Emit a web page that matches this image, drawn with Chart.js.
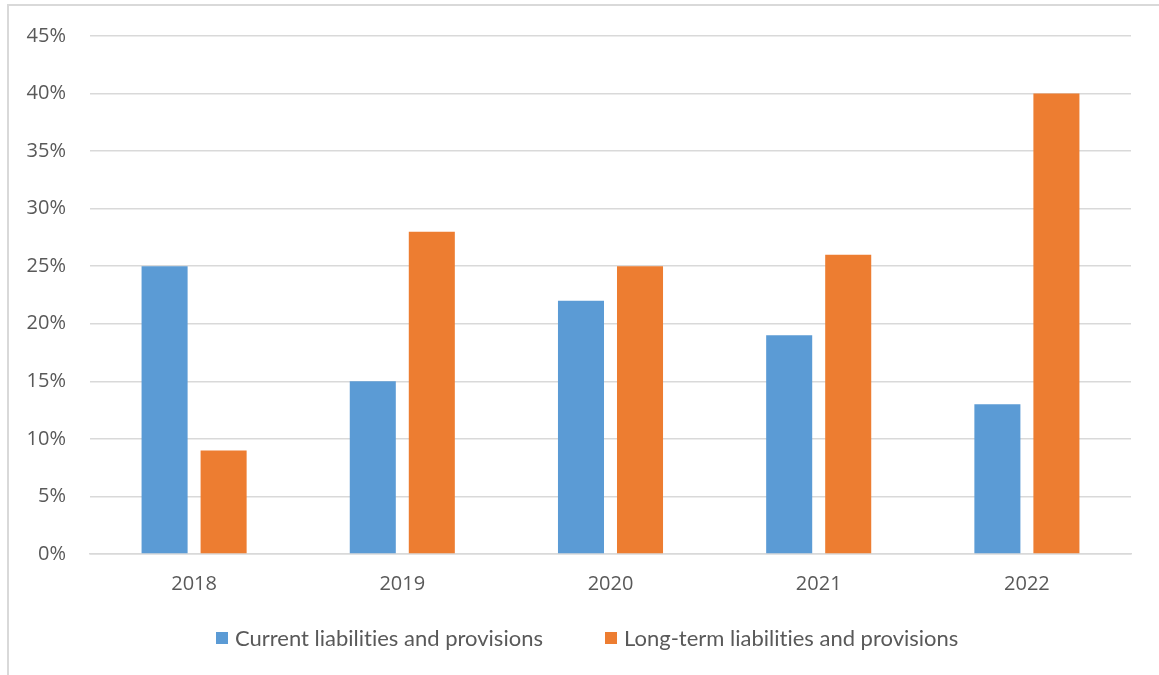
<!DOCTYPE html>
<html>
<head>
<meta charset="utf-8">
<script src="https://cdn.jsdelivr.net/npm/chart.js@4"></script>
<style>
  html, body { margin: 0; padding: 0; background: #fff; }
  #wrap { position: relative; width: 1159px; height: 675px; overflow: hidden; }
  #frame { position: absolute; left: 7px; top: 4px; width: 1170px; height: 690px; border: 2px solid #d9d9d9; box-sizing: border-box; }
  #chart { position: absolute; left: 0; top: 0; }
  #legend { position: absolute; left: 0; top: 625px; width: 1159px; height: 26px; font-family: Lato, sans-serif; font-size: 22px; color: #595959; line-height: 26px; font-variant-ligatures: none; }
  #legend span.item { position: absolute; top: 0; display: flex; align-items: center; white-space: nowrap; }
  #legend i { display: inline-block; width: 12px; height: 12px; margin-right: 7px; }
</style>
</head>
<body>
<div id="wrap">
  <div id="frame"></div>
  <canvas id="chart" width="1159" height="675"></canvas>
  <div id="legend"></div>
</div>
<script>
var years = ['2018', '2019', '2020', '2021', '2022'];
var currentLiab = [25, 15, 22, 19, 13];
var longTermLiab = [9, 28, 25, 26, 40];
var seriesNames = ['Current liabilities and provisions', 'Long-term liabilities and provisions'];
var seriesColors = ['#5b9bd5', '#ed7d31'];

var tickFont = { family: "'Open Sans', sans-serif", size: 20 };

var ctx = document.getElementById('chart').getContext('2d');
var chart = new Chart(ctx, {
  type: 'bar',
  data: {
    labels: years,
    datasets: [
      { label: seriesNames[0], data: currentLiab, backgroundColor: seriesColors[0] },
      { label: seriesNames[1], data: longTermLiab, backgroundColor: seriesColors[1] }
    ]
  },
  options: {
    responsive: false,
    animation: false,
    layout: { padding: { left: 0, right: 28, top: 34, bottom: 66 } },
    datasets: { bar: { categoryPercentage: 0.567, barPercentage: 0.78 } },
    plugins: { legend: { display: false }, tooltip: { enabled: false } },
    scales: {
      x: {
        grid: { display: false, drawTicks: false },
        border: { color: '#d9d9d9', width: 1.5 },
        ticks: { color: '#595959', font: tickFont, padding: 18 },
        afterFit: function (s) { s.height = 55; }
      },
      y: {
        min: 0,
        max: 45,
        ticks: {
          stepSize: 5,
          color: '#595959',
          font: tickFont,
          padding: 24,
          callback: function (v) { return v + '%'; }
        },
        grid: { color: '#d9d9d9', lineWidth: 1.5, drawTicks: false },
        border: { display: false },
        afterFit: function (s) { s.width = 90; }
      }
    }
  }
});

// legend as plain text below the plot
var legend = document.getElementById('legend');
var legendLeft = [216, 605];
seriesNames.forEach(function (name, i) {
  var item = document.createElement('span');
  item.className = 'item';
  item.style.left = legendLeft[i] + 'px';
  var box = document.createElement('i');
  box.style.background = seriesColors[i];
  item.appendChild(box);
  item.appendChild(document.createTextNode(name));
  legend.appendChild(item);
});
</script>
</body>
</html>
